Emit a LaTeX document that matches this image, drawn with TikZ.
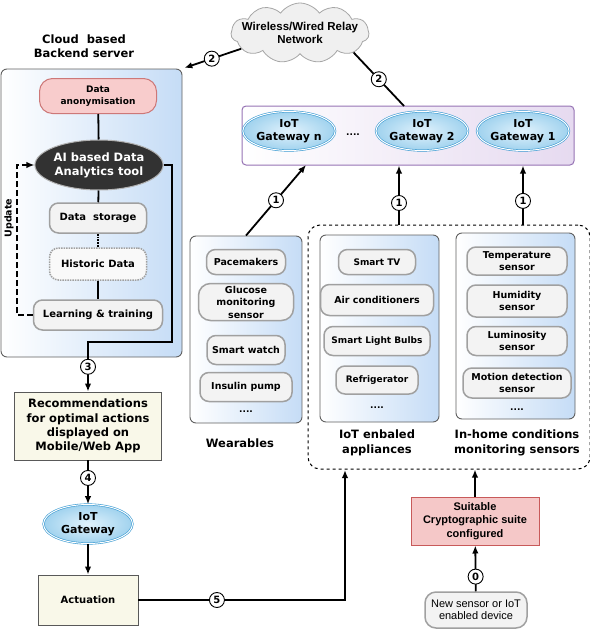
\documentclass[tikz,border=0pt]{standalone}
\usepackage{fontspec}
\newfontfamily\verd{DejaVu Sans}
\newfontfamily\ari{Liberation Sans}
\usepackage{tikz}
\usetikzlibrary{shapes.geometric,shapes.symbols,arrows.meta,calc,positioning}
\definecolor{boxblue}{RGB}{197,220,246}
\definecolor{gwpurple}{RGB}{230,218,240}
\definecolor{gwborder}{RGB}{150,115,180}
\definecolor{pinkfill}{RGB}{248,204,204}
\definecolor{pinkborder}{RGB}{205,120,120}
\definecolor{cream}{RGB}{249,248,233}
\definecolor{itemfill}{RGB}{243,243,243}
\definecolor{itemborder}{RGB}{160,160,160}
\definecolor{gwblue}{RGB}{60,155,210}
\definecolor{gwin}{RGB}{225,242,252}
\definecolor{gwout}{RGB}{160,210,238}
\definecolor{aidark}{RGB}{50,50,50}
\definecolor{cryptofill}{RGB}{245,200,200}
\definecolor{cryptoborder}{RGB}{200,90,90}

\begin{document}
\begin{tikzpicture}[x=1pt, y=-1pt]
	\tikzstyle{item} = [draw=itemborder, line width=1.5pt, fill=itemfill, rounded corners=9pt, align=center, inner sep=1pt, font=\verd\bfseries\fontsize{9.5}{12.5}\selectfont]
	\tikzstyle{panel} = [draw=gray!75!black, line width=0.9pt, rounded corners=6pt, left color=white, right color=boxblue]
	\tikzstyle{gw} = [ellipse, draw=gwblue, double=white, double distance=1pt, line width=0.6pt, inner color=gwin, outer color=gwout, align=center, inner sep=0pt, minimum width=89, minimum height=39, font=\verd\bfseries\fontsize{11}{13}\selectfont]
	\tikzstyle{plain} = [rectangle, draw=gray!70!black, line width=0.9pt, fill=cream, align=center, font=\verd\bfseries\fontsize{11.5}{14.3}\selectfont]
	\tikzstyle{title} = [align=center, font=\verd\bfseries\fontsize{11.5}{14.5}\selectfont]
	\tikzstyle{num} = [circle, draw, line width=0.9pt, fill=white, inner sep=0pt, minimum size=15, font=\verd\bfseries\fontsize{10}{10}\selectfont]
	\tikzstyle{link} = [line width=1.8pt]
	\tikzstyle{arr} = [line width=1.8pt, -{Latex[length=8pt,width=6.5pt]}]
	\tikzstyle{dots} = [font=\verd\bfseries\fontsize{9}{9}\selectfont]
\useasboundingbox (0,0) rectangle (589,629);
% cloud and backend server
\node[cloud, cloud puffs=11, cloud puff arc=110, cloud ignores aspect, draw=gray!70, fill=gray!12, line width=0.8pt, minimum width=138, minimum height=60, inner sep=0pt,
	label={[align=center, font=\ari\bfseries\fontsize{11.5}{13}\selectfont]center:Wireless/Wired Relay\\Network}] (0) at (300,33) {};
\node[title] (t1) at (84,46) {Cloud\ \ based\\Backend server};
\node[panel, minimum width=181, minimum height=288] (1) at (91.5,213) {};
\node[item, draw=pinkborder, fill=pinkfill, line width=1pt, minimum width=117, minimum height=35, rounded corners=13pt, font=\verd\bfseries\fontsize{9}{12}\selectfont] (2) at (98,96) {Data\\anonymisation};
\node[ellipse, draw=gray!60, line width=1pt, fill=aidark, text=white, minimum width=125, minimum height=50, inner sep=0pt, align=center, font=\verd\bfseries\fontsize{11.5}{14}\selectfont] (3) at (99,165) {AI based Data\\Analytics tool};
\node[item, minimum width=97, minimum height=30, font=\verd\bfseries\fontsize{10}{12}\selectfont] (4) at (98,218) {Data\ \ storage};
\node[item, densely dotted, fill=white!50!itemfill, minimum width=97, minimum height=32, font=\verd\bfseries\fontsize{10}{12}\selectfont] (5) at (98,264) {Historic Data};
\node[item, minimum width=129, minimum height=30, font=\verd\bfseries\fontsize{10}{12}\selectfont] (6) at (98,315) {Learning \& training};
\node[rotate=90, font=\verd\bfseries\fontsize{9.5}{9.5}\selectfont] (u) at (9,218) {Update};
	\path[draw, link] (2) -- (3);
	\path[draw, link] (3) -- (4);
	\path[draw, link, densely dotted] (4) -- (5);
	\path[draw, link] (5) -- (6);
	\path[draw, line width=1.5pt, dash pattern=on 6pt off 3pt, -{Latex[length=8pt,width=6.5pt]}] (6.west) -- ++(-16,0) |- (3.west);
	\path[draw, arr, shorten >=2pt] (0.195) -- node[num] {2} (1.north east);
% app side
\node[plain, minimum width=147, minimum height=68] (7) at (88,426) {Recommendations\\for optimal actions\\displayed on\\Mobile/Web App};
\node[gw] (8) at (88,524) {IoT\\Gateway};
\node[plain, minimum width=100, minimum height=50, font=\verd\bfseries\fontsize{10}{12}\selectfont] (9) at (88,600) {Actuation};
\coordinate (c3) at (172,342);
\coordinate (c5) at (345,470);
	\path[draw, arr] (3.east) -| (c3) -| node[num, pos=0.75] {3} (7.north);
	\path[draw, arr] (7) -- node[num, pos=0.4] {4} (8);
	\path[draw, arr] (8) -- (9);
	\path[draw, arr] (9.east) -| node[num, pos=0.19] {5} (c5);
% gateways
\node[draw=gwborder, line width=1pt, rounded corners=4pt, left color=white, right color=gwpurple, minimum width=332, minimum height=59] (10) at (408,135.5) {};
\node[gw] (11) at (289,131) {IoT\\Gateway n};
\node[dots] (12) at (353,135) {....};
\node[gw] (13) at (422,131) {IoT\\Gateway 2};
\node[gw] (14) at (523,131) {IoT\\Gateway 1};
\coordinate (c2) at (404,106);
	\path[draw, link] (0.-20) -- node[num] {2} (c2);
% wearables
\node[panel, minimum width=112, minimum height=187] (15) at (246,329.5) {};
\node[item, minimum width=79, minimum height=25] (16) at (246,262) {Pacemakers};
\node[item, minimum width=95, minimum height=37, rounded corners=12pt] (17) at (246,302) {Glucose\\monitoring\\sensor};
\node[item, minimum width=78, minimum height=29] (18) at (246,350) {Smart watch};
\node[item, minimum width=92, minimum height=29] (19) at (246,387) {Insulin pump};
\node[dots] (dw) at (246,412) {....};
\node[title] (tw) at (240,443) {Wearables};
\coordinate (c1) at (306,165);
	\path[draw, arr] (15.north) -- node[num] {1} (c1);
% home devices
\node[draw, dashed, line width=1pt, rounded corners=12pt, minimum width=282, minimum height=244] (20) at (449,347) {};
\node[panel, minimum width=119, minimum height=187] (21) at (379.5,328.5) {};
\node[item, minimum width=77, minimum height=25, font=\verd\bfseries\fontsize{9}{11}\selectfont] (22) at (377,262) {Smart TV};
\node[item, minimum width=113, minimum height=31] (23) at (377,300) {Air conditioners};
\node[item, minimum width=106, minimum height=29, font=\verd\bfseries\fontsize{9}{11}\selectfont] (24) at (377,341) {Smart Light Bulbs};
\node[item, minimum width=82, minimum height=28, font=\verd\bfseries\fontsize{9}{11}\selectfont] (25) at (377,380) {Refrigerator};
\node[dots] (da) at (377,408) {....};
\node[title] (ta) at (377,443) {IoT enbaled\\appliances};
\node[panel, minimum width=119, minimum height=186] (26) at (515.5,326) {};
\node[item, minimum width=100, minimum height=28] (27) at (517,261) {Temperature\\sensor};
\node[item, minimum width=100, minimum height=32] (28) at (517,301) {Humidity\\sensor};
\node[item, minimum width=100, minimum height=29] (29) at (517,341) {Luminosity\\sensor};
\node[item, minimum width=108, minimum height=30] (30) at (517,383) {Motion detection\\sensor};
\node[dots] (ds) at (517,410) {....};
\node[title] (ts) at (517,443) {In-home conditions\\monitoring sensors};
\coordinate (c4) at (399,225);
	\path[draw, arr] (c4) -- node[num, pos=0.37] {1} (c4 |- 10.south);
	\path[draw, arr] (20.north -| 14) -- node[num, pos=0.4] {1} (14 |- 10.south);
% new device
\node[rectangle, draw=cryptoborder, line width=1pt, fill=cryptofill, minimum width=128, minimum height=48, align=center, font=\ari\bfseries\fontsize{11}{13.5}\selectfont] (31) at (475,521) {Suitable\\Cryptographic suite\\configured};
\node[item, minimum width=102, minimum height=36, rounded corners=11pt, font=\ari\fontsize{11}{12.5}\selectfont] (32) at (476,610) {New sensor or IoT\\enabled device};
	\path[draw, arr] (31) -- (31 |- 20.south);
	\path[draw, arr] (32) -- node[num, pos=0.32] {0} (31);
\end{tikzpicture}
\end{document}
